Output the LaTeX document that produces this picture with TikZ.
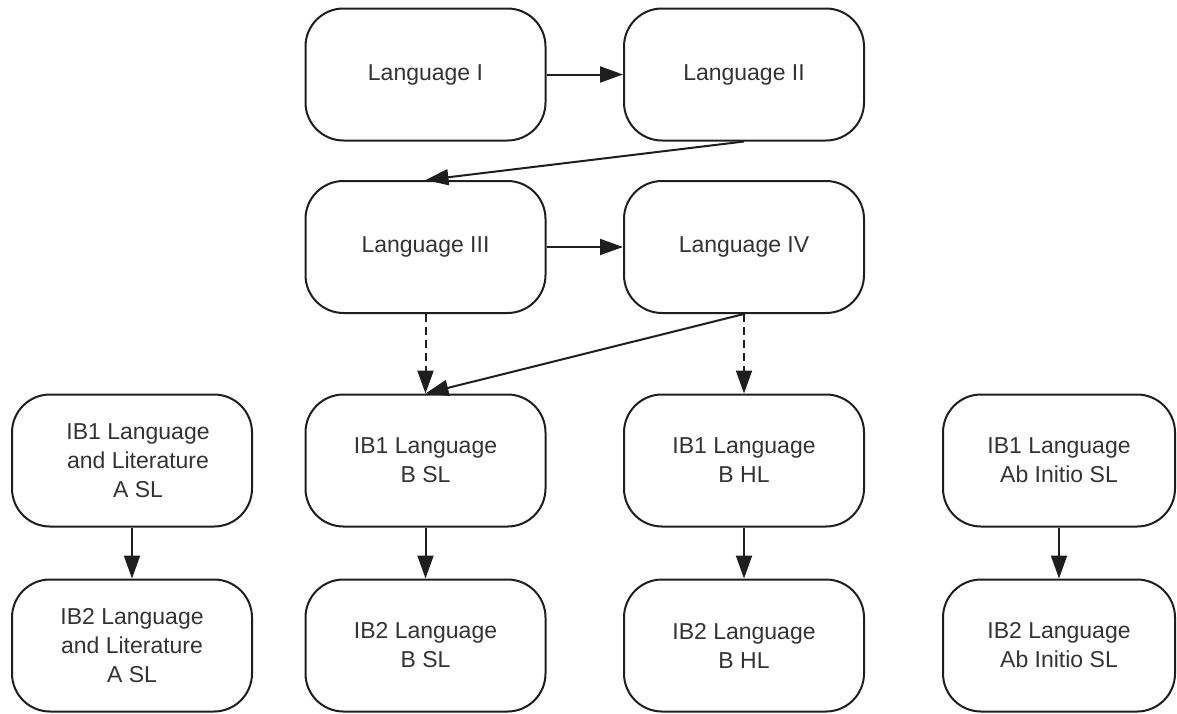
\documentclass[tikz,border=0pt]{standalone}
\usepackage{fontspec}
\setmainfont{Liberation Sans}
\usetikzlibrary{arrows.meta}
\definecolor{ink}{HTML}{1E1E1E}
\definecolor{txt}{HTML}{333333}
\begin{document}
\begin{tikzpicture}[x=1pt,y=-1pt,
  box/.style={draw=ink, line width=2pt, rounded corners=38pt,
    minimum width=240pt, minimum height=132pt, inner sep=0pt,
    align=center, text=txt,
    font=\fontsize{23}{29}\selectfont},
  conn/.style={draw=ink, line width=2pt,
    -{Triangle[length=23pt,width=16pt]}},
  opt/.style={conn, dash pattern=on 8pt off 5pt}]
\useasboundingbox (0,0) rectangle (1177,713);

% Language sequence
\node[box] (l1) at (425.5,74.5) {Language I};
\node[box] (l2) at (744,74.5) {Language II};
\node[box] (l3) at (425.5,247) {Language III};
\node[box] (l4) at (744,247) {Language IV};

% IB year 1
\node[box] (a1) at (132,460.5) {\hspace*{12pt}IB1 Language\\\hspace*{12pt}and Literature\\\hspace*{12pt}A SL};
\node[box] (b1) at (425.5,460.5) {IB1 Language\\B SL};
\node[box] (c1) at (744,460.5) {IB1 Language\\B HL};
\node[box, minimum width=232pt] (d1) at (1059,460.5) {IB1 Language\\Ab Initio SL};

% IB year 2
\node[box] (a2) at (132,645.5) {IB2 Language\\and Literature\\A SL};
\node[box] (b2) at (425.5,645.5) {IB2 Language\\B SL};
\node[box] (c2) at (744,645.5) {IB2 Language\\B HL};
\node[box, minimum width=232pt] (d2) at (1059,645.5) {IB2 Language\\Ab Initio SL};

% progression
\draw[conn] (l1.east) -- (l2.west);
\draw[conn] (l2.south) -- (l3.north);
\draw[conn] (l3.east) -- (l4.west);
\draw[opt] (l3.south) -- (b1.north);
\draw[conn] (l4.south) -- (b1.north);
\draw[opt] (l4.south) -- (c1.north);
\draw[conn] (a1.south) -- (a2.north);
\draw[conn] (b1.south) -- (b2.north);
\draw[conn] (c1.south) -- (c2.north);
\draw[conn] (d1.south) -- (d2.north);
\end{tikzpicture}
\end{document}
